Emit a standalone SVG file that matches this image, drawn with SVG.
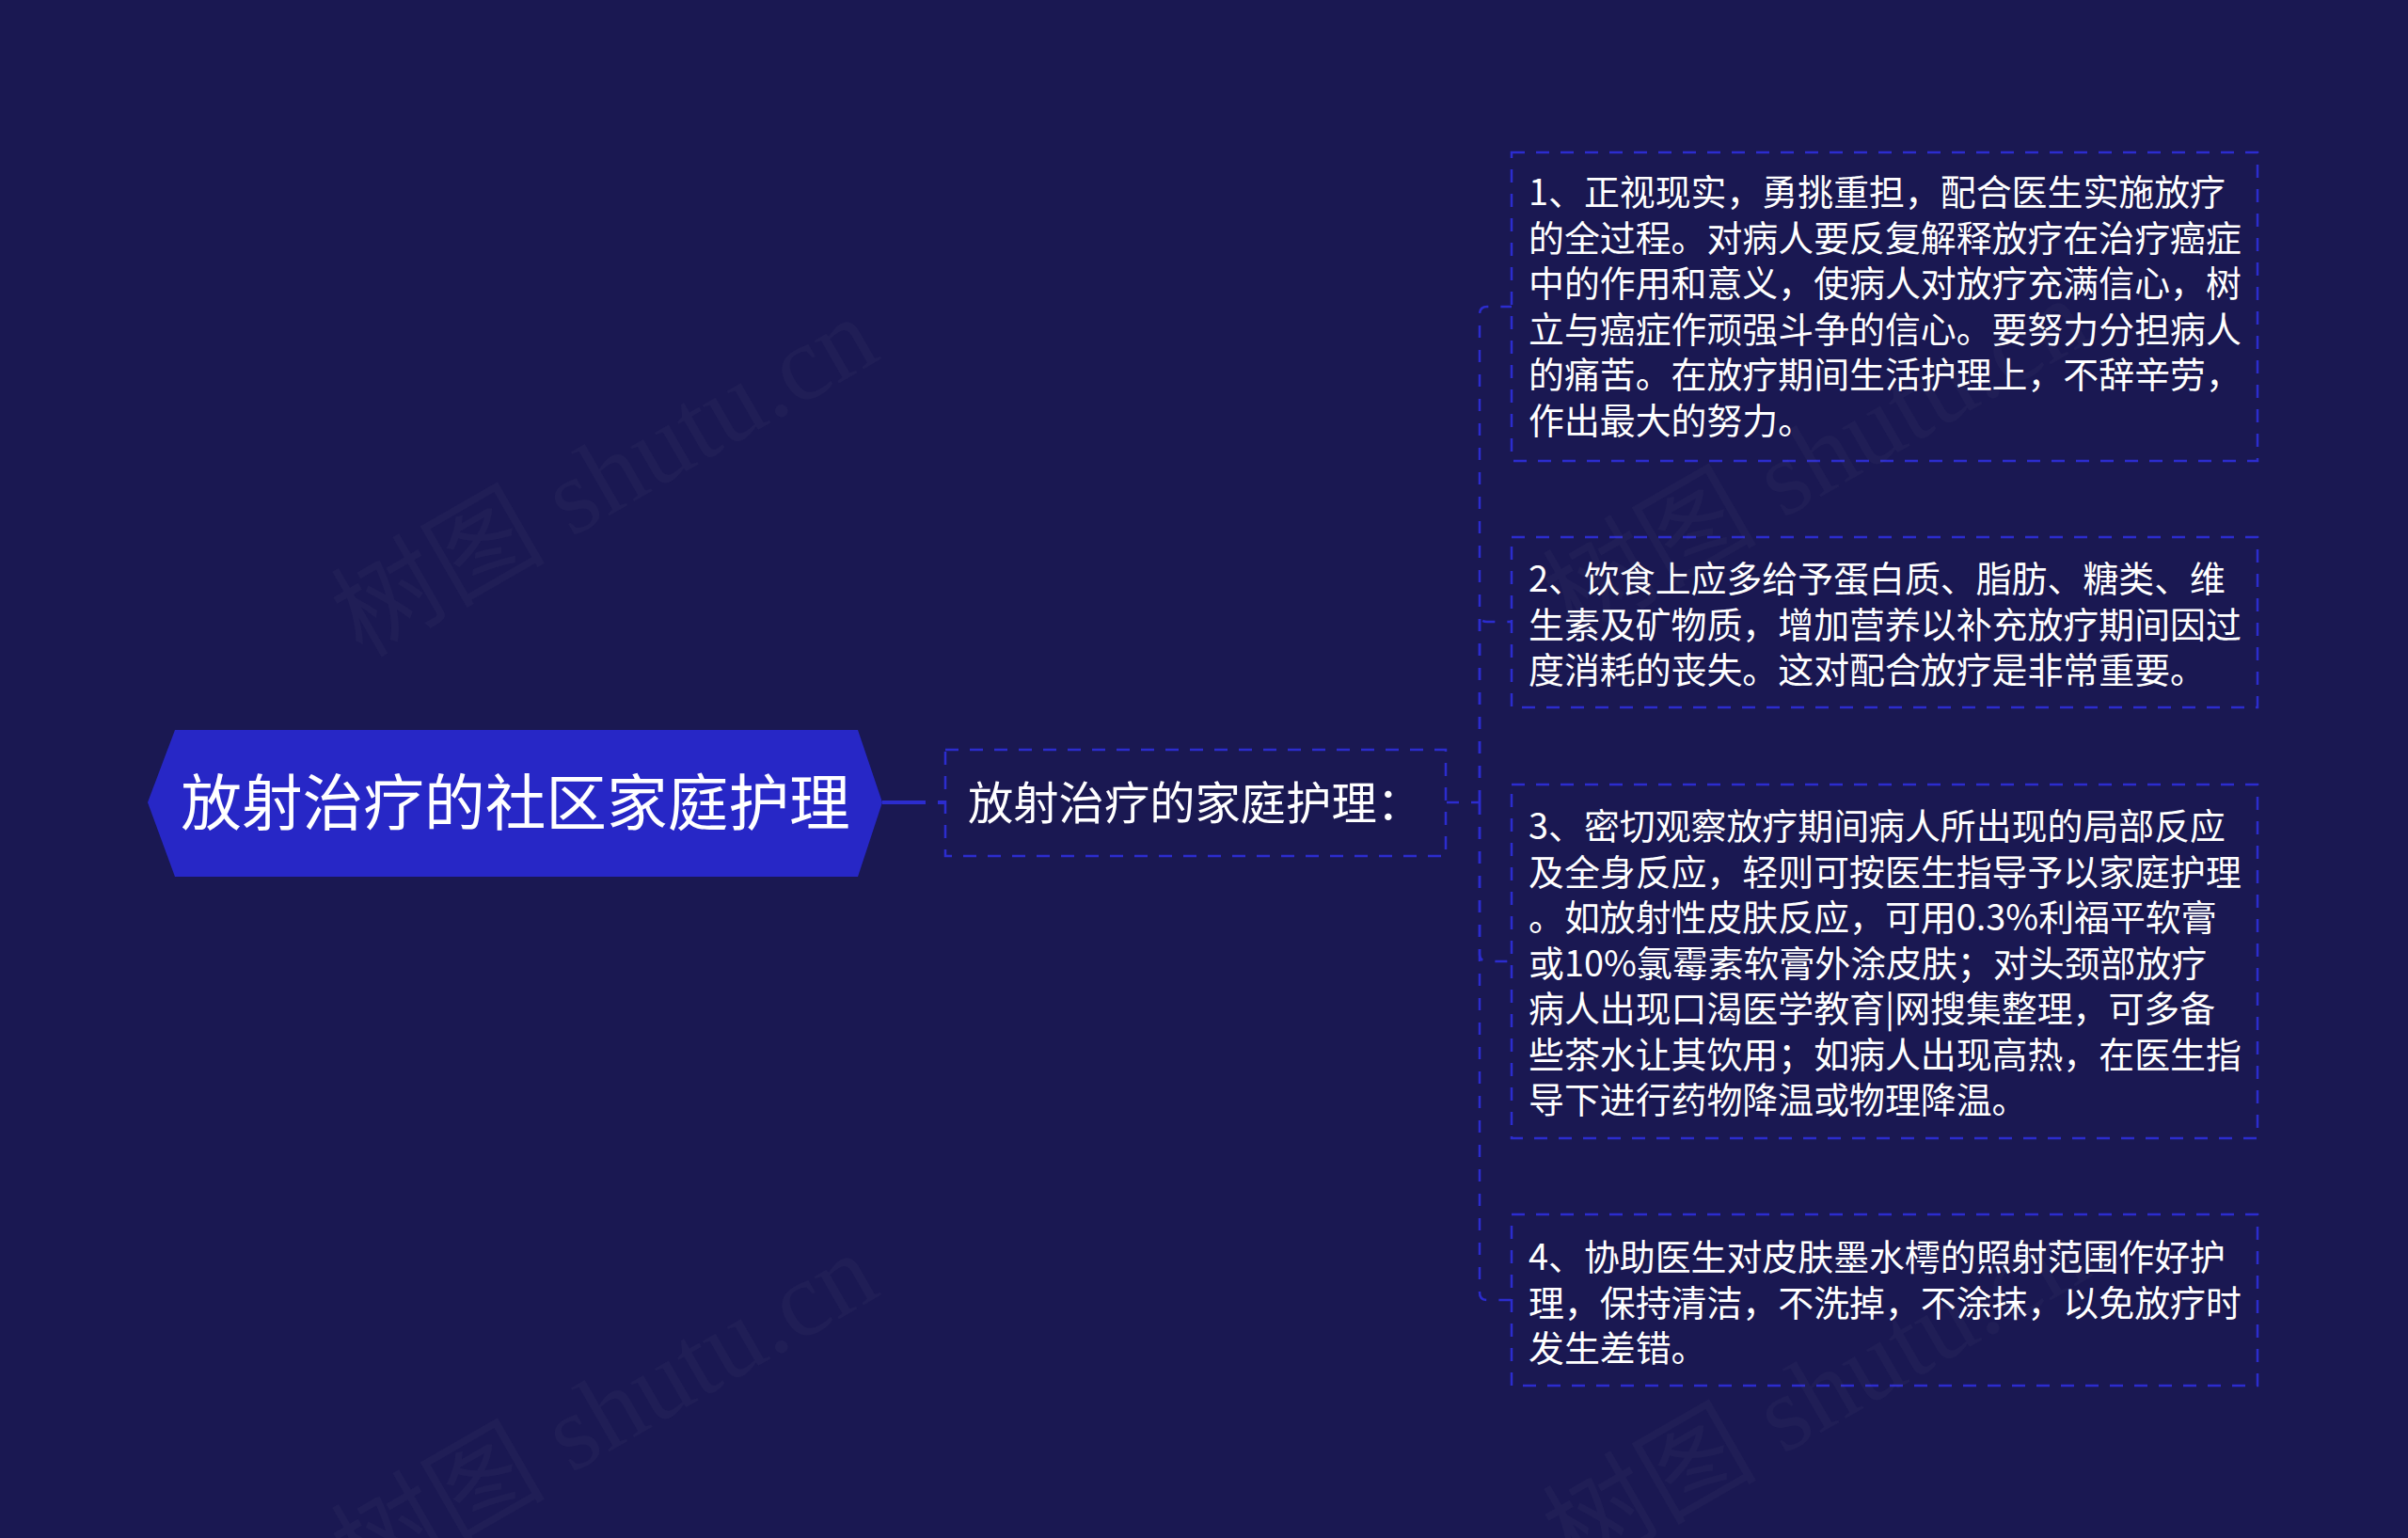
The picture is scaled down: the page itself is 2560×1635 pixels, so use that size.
<svg xmlns="http://www.w3.org/2000/svg" width="2560" height="1635" viewBox="0 0 2560 1635">
<style>
.bg{fill:#1a1852}
.box{fill:none;stroke:#2c2cce;stroke-width:2.5;stroke-dasharray:14 12}
.conn{fill:none;stroke:#2c2cce;stroke-width:2.5;stroke-dasharray:13 13}
.t{font-family:"Noto Sans CJK SC","Noto Sans",sans-serif;fill:#ffffff}
.c{font-size:37.9px}
.wm{font-family:"Liberation Serif","Noto Sans CJK SC",serif;font-size:114px;fill:#9a9aa8;fill-opacity:0.055}
</style>
<rect class="bg" x="0" y="0" width="2560" height="1635"/>
<g id="connectors">
<line x1="938" y1="853" x2="1005" y2="853" stroke="#2c2cce" stroke-width="4" stroke-dasharray="46 13"/>
<path class="conn" d="M1538,853 H1573"/>
<path class="conn" d="M1573,853 V334 Q1573,326 1581,326 H1607"/>
<path class="conn" d="M1573,853 V653 Q1573,661 1581,661 H1607"/>
<path class="conn" d="M1573,853 V1014 Q1573,1022 1581,1022 H1607"/>
<path class="conn" d="M1573,853 V1374 Q1573,1382 1581,1382 H1607"/>
</g>
<g id="root">
<polygon points="157,853 186,776 912,776 938,853 912,932 186,932" fill="#2727c6"/>
<text class="t" x="548" y="877" font-size="64.7" text-anchor="middle">放射治疗的社区家庭护理</text>
</g>
<g id="sub">
<rect class="box" x="1005" y="797" width="532" height="113"/>
<text class="t" x="1029" y="871" font-size="48.3">放射治疗的家庭护理：</text>
</g>
<g id="child1">
<rect class="box" x="1607" y="162" width="793" height="328"/>
<text class="t c"><tspan x="1625" y="218">1、正视现实，勇挑重担，配合医生实施放疗</tspan><tspan x="1625" y="266.5">的全过程。对病人要反复解释放疗在治疗癌症</tspan><tspan x="1625" y="315">中的作用和意义，使病人对放疗充满信心，树</tspan><tspan x="1625" y="363.5">立与癌症作顽强斗争的信心。要努力分担病人</tspan><tspan x="1625" y="412">的痛苦。在放疗期间生活护理上，不辞辛劳，</tspan><tspan x="1625" y="460.5">作出最大的努力。</tspan></text>
</g>
<g id="child2">
<rect class="box" x="1607" y="571" width="793" height="181"/>
<text class="t c"><tspan x="1625" y="629">2、饮食上应多给予蛋白质、脂肪、糖类、维</tspan><tspan x="1625" y="677.5">生素及矿物质，增加营养以补充放疗期间因过</tspan><tspan x="1625" y="726">度消耗的丧失。这对配合放疗是非常重要。</tspan></text>
</g>
<g id="child3">
<rect class="box" x="1607" y="834" width="793" height="376"/>
<text class="t c"><tspan x="1625" y="892">3、密切观察放疗期间病人所出现的局部反应</tspan><tspan x="1625" y="940.5">及全身反应，轻则可按医生指导予以家庭护理</tspan><tspan x="1625" y="989">。如放射性皮肤反应，可用0.3%利福平软膏</tspan><tspan x="1625" y="1037.5">或10%氯霉素软膏外涂皮肤；对头颈部放疗</tspan><tspan x="1625" y="1086">病人出现口渴医学教育|网搜集整理，可多备</tspan><tspan x="1625" y="1134.5">些茶水让其饮用；如病人出现高热，在医生指</tspan><tspan x="1625" y="1183">导下进行药物降温或物理降温。</tspan></text>
</g>
<g id="child4">
<rect class="box" x="1607" y="1291" width="793" height="182"/>
<text class="t c"><tspan x="1625" y="1350">4、协助医生对皮肤墨水樗的照射范围作好护</tspan><tspan x="1625" y="1398.5">理，保持清洁，不洗掉，不涂抹，以免放疗时</tspan><tspan x="1625" y="1447">发生差错。</tspan></text>
</g>
<g id="watermark">
<text class="wm" transform="translate(385,700) rotate(-30)">树图 shutu.cn</text>
<text class="wm" transform="translate(385,1695) rotate(-30)">树图 shutu.cn</text>
<text class="wm" transform="translate(1673,680) rotate(-30)">树图 shutu.cn</text>
<text class="wm" transform="translate(1673,1675) rotate(-30)">树图 shutu.cn</text>
</g>
</svg>
